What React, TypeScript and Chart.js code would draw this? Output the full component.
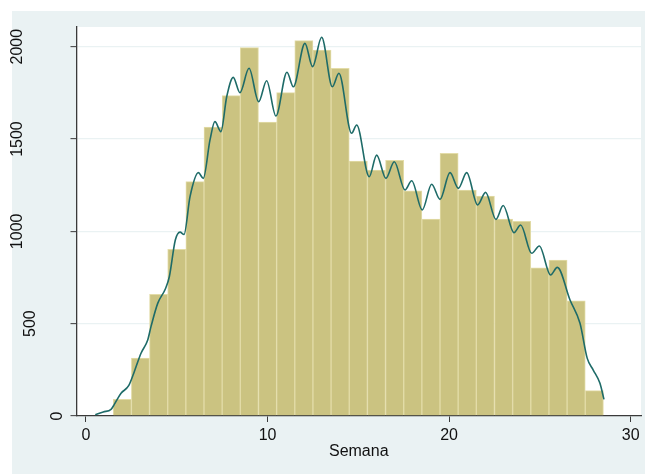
import React, { useEffect, useRef } from 'react';
import { Chart, registerables } from 'chart.js';

Chart.register(...registerables);

// Histogram bins (week centres) and their counts
const weekBins = [2, 3, 4, 5, 6, 7, 8, 9, 10, 11, 12, 13, 14, 15, 16, 17, 18, 19, 20, 21, 22, 23, 24, 25, 26, 27, 28];
const weekCounts = [90, 314, 659, 903, 1269, 1565, 1735, 1995, 1592, 1751, 2033, 1982, 1883, 1381, 1332, 1385, 1220, 1067, 1423, 1224, 1191, 1067, 1054, 803, 845, 624, 137];

// Smoothed density curve, scaled to counts
const curveWeeks = [
  0.51, 0.95, 1.38, 1.56, 1.93, 2.35, 2.66, 3.03, 3.4, 3.58, 3.95, 4.37, 4.59, 4.92, 5.18, 5.4,
  5.73, 6.19, 6.46, 6.83, 7.1, 7.43, 7.75, 8.11, 8.48, 8.98, 9.51, 9.95, 10.46, 11.07, 11.42,
  12.06, 12.48, 12.98, 13.57, 13.93, 14.63, 14.91, 15.6, 16.01, 16.52, 16.98, 17.57, 17.94,
  18.52, 19.04, 19.5, 20.05, 20.51, 20.97, 21.57, 22.01, 22.58, 22.98, 23.57, 23.94, 24.55,
  24.97, 25.59, 25.96, 26.66, 27.21, 27.61, 27.94, 28.31, 28.53,
];
const curveValues = [
  7, 22, 36, 63, 123, 164, 240, 340, 412, 484, 610, 688, 754, 953, 996, 983,
  1188, 1318, 1287, 1495, 1594, 1540, 1729, 1834, 1751, 1883, 1702, 1816, 1625, 1862, 1783,
  2018, 1892, 2051, 1783, 1856, 1531, 1576, 1296, 1413, 1287, 1377, 1224, 1274,
  1116, 1255, 1173, 1318, 1233, 1318, 1143, 1211, 1065, 1140, 993, 1034, 881,
  921, 764, 805, 628, 502, 312, 249, 177, 90,
];

const xTickValues = [0, 10, 20, 30];
const yTickValues = [0, 500, 1000, 1500, 2000];
const xAxisTitle = 'Semana';

const FONT = '"Liberation Sans", Arial, Helvetica, sans-serif';
const PANEL = '#EAF2F3';
const INK = '#111111';
const AXIS = '#3a3a3a';

// Light panel behind the white plot region
const backdrop = {
  id: 'backdrop',
  beforeDraw(chart: any) {
    const { ctx, chartArea: a } = chart;
    ctx.save();
    ctx.fillStyle = '#ffffff';
    ctx.fillRect(0, 0, chart.width, chart.height);
    ctx.fillStyle = PANEL;
    ctx.fillRect(12, 11, chart.width - 12, chart.height - 11);
    ctx.fillStyle = '#ffffff';
    ctx.fillRect(a.left, a.top, a.right - a.left, a.bottom - a.top);
    ctx.restore();
  },
};

// Vertical value labels on the y axis
const verticalYLabels = {
  id: 'verticalYLabels',
  afterDraw(chart: any) {
    const { ctx } = chart;
    const y = chart.scales.y;
    ctx.save();
    ctx.font = `16px ${FONT}`;
    ctx.fillStyle = INK;
    ctx.textAlign = 'center';
    ctx.textBaseline = 'middle';
    yTickValues.forEach((v) => {
      const label = String(v);
      const w = ctx.measureText(label).width;
      const cx = 70.5 - 1.5 * w;
      const cy = y.getPixelForValue(v);
      ctx.save();
      ctx.translate(cx, cy);
      ctx.rotate(-Math.PI / 2);
      ctx.fillText(label, 0, 0);
      ctx.restore();
    });
    ctx.restore();
  },
};

export default function App() {
  const canvasRef = useRef<HTMLCanvasElement | null>(null);

  useEffect(() => {
    const canvas = canvasRef.current;
    if (!canvas) return;
    const chart = new Chart(canvas, {
      type: 'bar',
      data: {
        datasets: [
          {
            type: 'line',
            data: curveWeeks.map((x, i) => ({ x, y: curveValues[i] })),
            borderColor: '#1E6B68',
            borderWidth: 1.6,
            pointRadius: 0,
            fill: false,
            cubicInterpolationMode: 'monotone',
            order: 0,
          } as any,
          {
            type: 'bar',
            data: weekBins.map((x, i) => ({ x, y: weekCounts[i] })),
            backgroundColor: '#CBC381',
            borderColor: '#E3DCA8',
            borderWidth: 1,
            barPercentage: 1,
            categoryPercentage: 1,
            order: 1,
          } as any,
        ],
      },
      options: {
        responsive: false,
        animation: false,
        devicePixelRatio: 1,
        layout: { padding: { top: 27, right: 4, left: 0, bottom: 0 } },
        plugins: {
          legend: { display: false },
          tooltip: { enabled: false },
        },
        scales: {
          x: {
            type: 'linear',
            min: -0.523,
            max: 30.57,
            offset: false,
            afterBuildTicks: (s: any) => {
              s.ticks = xTickValues.map((v) => ({ value: v }));
            },
            afterFit: (s: any) => {
              s.height = 58;
            },
            grid: {
              offset: false,
              drawOnChartArea: false,
              drawTicks: true,
              tickLength: 6,
              tickColor: AXIS,
              tickWidth: 1,
            },
            border: { display: true, color: AXIS, width: 1.3 },
            ticks: {
              font: { family: FONT, size: 16 },
              color: INK,
              padding: 4,
              maxRotation: 0,
              autoSkip: false,
            },
            title: {
              display: true,
              text: xAxisTitle,
              font: { family: FONT, size: 16 },
              color: INK,
              padding: { top: 0, bottom: 13 },
            },
          },
          y: {
            type: 'linear',
            min: 0,
            max: 2106.7,
            afterBuildTicks: (s: any) => {
              s.ticks = yTickValues.map((v) => ({ value: v }));
            },
            afterFit: (s: any) => {
              s.width = 76.5;
            },
            grid: {
              color: PANEL,
              lineWidth: 1.3,
              drawTicks: true,
              tickLength: 6,
              tickColor: AXIS,
              tickWidth: 1,
            },
            border: { display: true, color: AXIS, width: 1.3 },
            ticks: { display: false },
          },
        },
      } as any,
      plugins: [backdrop, verticalYLabels],
    });
    return () => chart.destroy();
  }, []);

  return (
    <div style={{ position: 'absolute', left: 0, top: 0, width: 645, height: 474, background: '#fff' }}>
      <canvas ref={canvasRef} width={645} height={474} style={{ display: 'block', width: 645, height: 474 }} />
    </div>
  );
}
